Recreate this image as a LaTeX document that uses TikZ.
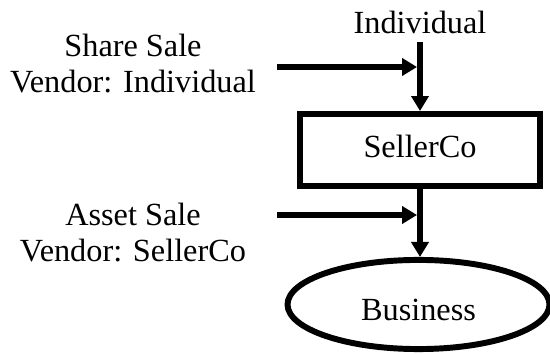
\documentclass[tikz,border=0pt]{standalone}
\usepackage{fontspec}
\setmainfont{Liberation Serif}
\usepackage{tikz}
\usetikzlibrary{shapes.geometric, arrows.meta}

\begin{document}
\begin{tikzpicture}[
  x=0.3871pt, y=-0.3871pt,
  font=\fontsize{12.5}{13.9}\selectfont,
  box/.style={rectangle, draw, line width=2.3pt, minimum width=92.9pt, minimum height=27.9pt, text depth=3pt},
  oval/.style={ellipse, draw, line width=2.3pt, minimum width=101.4pt, minimum height=34.5pt, text height=12.6pt, text depth=0pt},
  lbl/.style={align=center},
  arrow/.style={-{Triangle[length=5.8pt, width=6.6pt]}, line width=2.3pt},
]
\useasboundingbox (0,0) rectangle (550,354);
\node (ind) at (420,22) {Individual};
\node[box] (seller) at (420,150) {SellerCo};
\node[oval] (biz) at (418.5,304.5) {Business};
\node[lbl] (share) at (133,64) {Share Sale\\Vendor: Individual};
\node[lbl] (asset) at (133,232.5) {Asset Sale\\Vendor: SellerCo};
% sale arrows meet the ownership lines
\coordinate (s1) at (277,67);  \coordinate (j1) at (420,67);
\coordinate (s2) at (277,215); \coordinate (j2) at (420,215);
\draw[arrow] (ind) -- (seller);
\draw[arrow] (seller) -- (seller |- biz.north);
\draw[arrow, shorten >=1.15pt] (s1) -- (j1);
\draw[arrow, shorten >=1.15pt] (s2) -- (j2);
\end{tikzpicture}
\end{document}
